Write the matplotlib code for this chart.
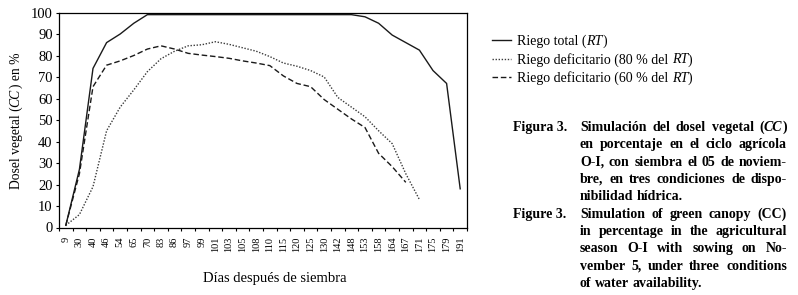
import numpy as np
import matplotlib.pyplot as plt

plt.rcParams['font.family'] = 'Liberation Serif'

# days after sowing (categorical axis)
days = [9, 30, 40, 46, 54, 65, 70, 83, 86, 97, 99, 101, 103, 105, 108,
        110, 115, 120, 125, 130, 142, 148, 153, 158, 164, 167, 171, 175, 179, 191]

# canopy cover (%)
riego_total = [1, 27, 74, 86, 90, 95, 99, 99, 99, 99, 99, 99, 99, 99, 99,
               99, 99, 99, 99, 99, 99, 99, 98, 95, 89.5, 86, 82.5, 73, 67, 18]
riego_80 = [1, 6, 19, 45, 56, 64, 72.5, 78.5, 82, 84.5, 85, 86.4, 85.2, 83.6, 82,
            79.5, 76.5, 75, 73, 70, 60.5, 56, 51.5, 45, 39, 25, 13]
riego_60 = [1, 25, 65.5, 75.5, 77.5, 80, 83, 84.5, 83, 81, 80.2, 79.5, 78.7, 77.5, 76.5,
            75.3, 70.5, 67, 65.5, 59.5, 55, 50.5, 46.5, 34.5, 28.3, 21]

# label pieces: (text, italic)
series_labels = [[('Riego total (', False), ('RT', True), (')', False)],
                 [('Riego deficitario (80 % del ', False), ('RT', True), (')', False)],
                 [('Riego deficitario (60 % del ', False), ('RT', True), (')', False)]]
ylabel_parts = [('Dosel vegetal (', False), ('CC', True), (') en %', False)]

caption_es = ["Simulación del dosel vegetal (*CC*)",
              "en porcentaje en el ciclo agrícola",
              "O-I, con siembra el 05 de noviem-",
              "bre, en tres condiciones de dispo-",
              "nibilidad hídrica."]
caption_en = ["Simulation of green canopy (CC)",
              "in percentage in the agricultural",
              "season O-I with sowing on No-",
              "vember 5, under three conditions",
              "of water availability."]

W, H = 798, 295


def ink_width(fig, renderer, s, **kw):
    t = fig.text(0, 0, s, **kw)
    w = t.get_window_extent(renderer).width
    t.remove()
    return w


def text_width(fig, renderer, s, **kw):
    # width of s in pixels, counting trailing spaces
    core = s.rstrip(' ')
    n = len(s) - len(core)
    space = ink_width(fig, renderer, 'a a', **kw) - ink_width(fig, renderer, 'aa', **kw)
    return ink_width(fig, renderer, core, **kw) + n * space


def rich_text(fig, renderer, parts, x, y, size, weight='normal', rotation=0, center=False):
    # x, y: pixel position (from top-left) of the baseline start
    kws = [dict(fontsize=size, fontweight=weight, fontstyle='italic' if it else 'normal')
           for s, it in parts]
    widths = [text_width(fig, renderer, s, **kw) for (s, it), kw in zip(parts, kws)]
    pos = -sum(widths) / 2 if center else 0
    for (s, it), kw, w in zip(parts, kws, widths):
        if rotation == 90:
            px, py = x, y - pos
        else:
            px, py = x + pos, y
        fig.text(px / W, 1 - py / H, s, rotation=rotation, rotation_mode='anchor',
                 ha='left', va='baseline', **kw)
        pos += w


def put_line(fig, renderer, line, x0, x1, ybase, justify, size):
    # draw one caption line word by word, stretching the gaps if justify
    words = line.split(' ')
    items = []
    widths = []
    for w in words:
        parts = w.split('*')
        arts = []
        total = 0
        for k, p in enumerate(parts):
            if p == '':
                continue
            t = fig.text(0, 1 - ybase / H, p, fontsize=size, fontweight='bold',
                         fontstyle='italic' if k % 2 else 'normal',
                         va='baseline', ha='left')
            arts.append((t, total))
            total += t.get_window_extent(renderer).width
        items.append(arts)
        widths.append(total)
    space = text_width(fig, renderer, ' ', fontsize=size, fontweight='bold')
    if justify and len(words) > 1:
        gap = (x1 - x0 - sum(widths)) / (len(words) - 1)
    else:
        gap = space
    x = x0
    for arts, w in zip(items, widths):
        for t, off in arts:
            t.set_x((x + off) / W)
        x += w + gap


fig = plt.figure(figsize=(W / 100, H / 100), dpi=100)
ax = fig.add_axes([59 / W, 1 - 227.5 / H, 408 / W, 215 / H])

x = np.arange(len(days))
l1, = ax.plot(x[:len(riego_total)], riego_total, color='#1a1a1a', lw=1.0)
l2, = ax.plot(x[:len(riego_80)], riego_80, color='#3a3a3a', lw=1.0, linestyle=(0, (1, 1.2)))
l3, = ax.plot(x[:len(riego_60)], riego_60, color='#1a1a1a', lw=1.0, linestyle=(0, (4, 2)))

ax.set_xlim(-0.5, len(days) - 0.5)
ax.set_ylim(0, 100)
ax.set_yticks(range(0, 101, 10))
ax.tick_params(axis='y', labelsize=10.5, length=2.5, width=0.8, pad=2)

# ticks between categories, labels at category centres
ax.set_xticks(np.arange(len(days) + 1) - 0.5)
ax.set_xticklabels([])
ax.set_xticks(x, minor=True)
ax.set_xticklabels(days, minor=True, rotation=90, fontsize=7.5)
ax.tick_params(axis='x', which='major', length=2.5, width=0.8)
ax.tick_params(axis='x', which='minor', length=0, pad=6.5)
for s in ax.spines.values():
    s.set_linewidth(0.9)

ax.set_xlabel('Días después de siembra', fontsize=10.5)
ax.xaxis.set_label_coords(0.53, -0.205)

# legend holds the plain start of each label, the italic RT is added after it
leg_size = 10
first = [lab[0][0].rstrip() for lab in series_labels]
leg = fig.legend([l1, l2, l3], first, loc='upper left', bbox_to_anchor=(492 / W, 1 - 35 / H),
                 frameon=False, fontsize=leg_size, handlelength=1.4, handletextpad=0.4,
                 labelspacing=0.3, borderaxespad=0, borderpad=0)

fig.canvas.draw()
renderer = fig.canvas.get_renderer()
for t, lab in zip(leg.get_texts(), series_labels):
    xd, yd = t.get_transform().transform(t.get_position())
    start = xd + text_width(fig, renderer, lab[0][0], fontsize=leg_size)
    rich_text(fig, renderer, lab[1:], start, H - yd, leg_size)

# y label with italic CC
rich_text(fig, renderer, ylabel_parts, 19.5, 121, 9.8, rotation=90, center=True)

# bilingual caption on the right
cap_size = 10
body_x0, body_x1 = 580, 787
base0, step = 131, 17.33
fig.text(513 / W, 1 - base0 / H, 'Figura 3.', fontsize=cap_size, fontweight='bold',
         va='baseline', ha='left')
for i, line in enumerate(caption_es):
    put_line(fig, renderer, line, body_x0, body_x1, base0 + i * step,
             i < len(caption_es) - 1, cap_size)
base1 = base0 + len(caption_es) * step
fig.text(513 / W, 1 - base1 / H, 'Figure 3.', fontsize=cap_size, fontweight='bold',
         va='baseline', ha='left')
for i, line in enumerate(caption_en):
    put_line(fig, renderer, line, body_x0, body_x1, base1 + i * step,
             i < len(caption_en) - 1, cap_size)

fig.savefig('out.png', dpi=100)
